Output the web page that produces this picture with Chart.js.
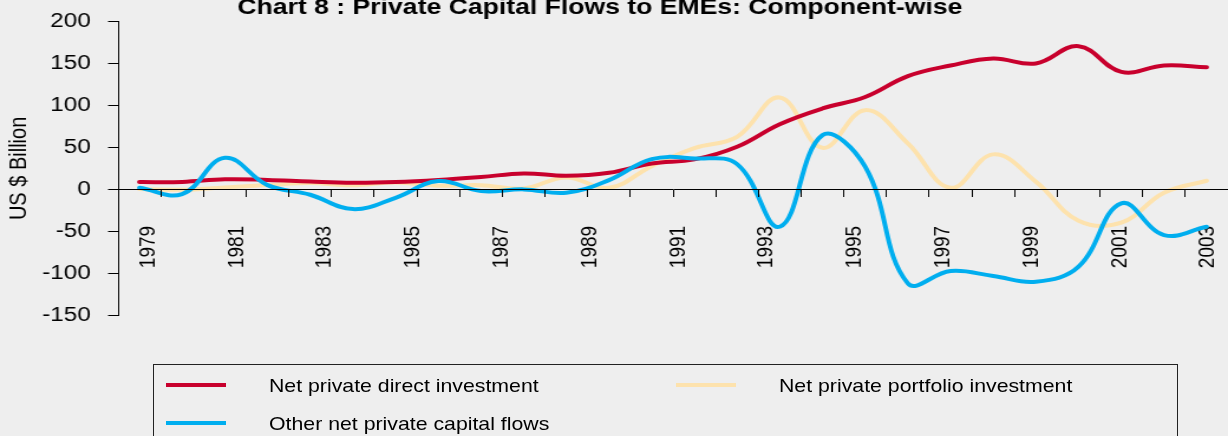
<!DOCTYPE html>
<html>
<head>
<meta charset="utf-8">
<script src="https://cdn.jsdelivr.net/npm/chart.js@4.4.1/dist/chart.umd.min.js"></script>
<style>
  html, body { margin: 0; padding: 0; background: #eeeeee; overflow: hidden; }
  body { width: 1228px; height: 436px; position: relative; font-family: "Liberation Sans", Arial, sans-serif; }
  /* the original picture is stretched sideways, so the canvas is too */
  #chart { position: absolute; left: 0; top: 0; transform-origin: 0 0; transform: scaleX(1.180769); }
  #legend { position: absolute; left: 153px; top: 364px; width: 1025px; height: 100px; border: 1px solid #222; box-sizing: border-box; }
  .item { position: absolute; height: 20px; width: 480px; }
  .swatch { position: absolute; left: 0; top: 7px; width: 60px; height: 4px; }
  .txt { position: absolute; left: 103px; top: 0; font-size: 19px; line-height: 19px; white-space: nowrap; color: #000;
         transform-origin: 0 0; transform: scaleX(1.12); }
</style>
</head>
<body>
<canvas id="chart" width="1040" height="436"></canvas>
<div id="legend"></div>
<script>
const years = [1978, 1979, 1980, 1981, 1982, 1983, 1984, 1985, 1986, 1987, 1988, 1989, 1990,
  1991, 1992, 1993, 1994, 1995, 1996, 1997, 1998, 1999, 2000, 2001, 2002, 2003];
const labelYears = [1979, 1981, 1983, 1985, 1987, 1989, 1991, 1993, 1995, 1997, 1999, 2001, 2003];

// US $ billion
const directInv = [8.7, 8.9, 12.1, 11.3, 9.3, 7.9, 8.7, 11.1, 14.7, 19.0, 16.2, 19.8, 30.9,
  35.7, 50.8, 77.7, 96.4, 110, 134.9, 147.6, 155.9, 150, 170.6, 140, 147.6, 145.6];
const portfolioInv = [0.4, -0.5, 2.4, 5.1, 7.5, 4.8, 8.3, 4.4, 5, 1.2, 14.3, 1.9, 27.7,
  49.2, 62.6, 109.5, 49.5, 94.4, 54.8, 1.9, 41.7, 9.1, -37.4, -39.7, -4, 10.3];
const otherFlows = [1.9, -5.6, 37.6, 5.1, -6.4, -23.5, -10, 9.9, -2.0, 0, -4, 11, 36,
  36.9, 30.1, -44.5, 64.6, 27, -112, -97.3, -103.2, -110, -92.1, -16.7, -54.4, -44.5];

const seriesNames = ["Net private direct investment", "Net private portfolio investment", "Other net private capital flows"];
const seriesColors = ["#c8002d", "#fde2ad", "#00aeef"];

const fam = '"Liberation Sans", Arial, sans-serif';

const zeroPad = (scale) => {
  scale.paddingLeft = 0;
  scale.paddingRight = 0;
};

// legend is built as html so the two columns sit where the original has them
const htmlLegend = {
  id: "htmlLegend",
  afterUpdate(chart) {
    const box = document.getElementById("legend");
    box.innerHTML = "";
    chart.data.datasets.forEach((ds, i) => {
      const item = document.createElement("div");
      item.className = "item";
      item.style.left = 12 + (i % 2) * 510 + "px";
      item.style.top = 11 + Math.floor(i / 2) * 37.7 + "px";
      item.innerHTML = `<div class="swatch" style="background:${ds.borderColor}"></div><span class="txt">${ds.label}</span>`;
      box.appendChild(item);
    });
  },
};

const ctx = document.getElementById("chart");

new Chart(ctx, {
  type: "line",
  data: {
    labels: years,
    datasets: [
      { label: seriesNames[0], data: directInv, borderColor: seriesColors[0], backgroundColor: seriesColors[0], order: 1 },
      { label: seriesNames[1], data: portfolioInv, borderColor: seriesColors[1], backgroundColor: seriesColors[1], order: 2 },
      { label: seriesNames[2], data: otherFlows, borderColor: seriesColors[2], backgroundColor: seriesColors[2], order: 0 },
    ],
  },
  options: {
    responsive: false,
    animation: false,
    layout: { autoPadding: false, padding: { left: -24, top: -4, right: 0, bottom: 120.7 } },
    elements: {
      point: { radius: 0, hoverRadius: 0 },
      line: { borderWidth: 4, tension: 0.4, borderCapStyle: "round", borderJoinStyle: "round" },
    },
    plugins: {
      legend: { display: false },
      tooltip: { enabled: false },
      title: {
        display: true,
        text: "Chart 8 : Private Capital Flows to EMEs: Component-wise",
        color: "#000",
        font: { family: fam, size: 22.5, weight: "bold", lineHeight: 1 },
        padding: { top: 1, bottom: 2 },
      },
    },
    scales: {
      x: {
        type: "category",
        position: { y: 0 },
        offset: true,
        grid: { display: true, drawOnChartArea: false, drawTicks: true, tickLength: 7, color: "#000", offset: true, z: 1 },
        border: { display: true, color: "#000", width: 1, z: 1 },
        ticks: { display: false },
        afterFit: zeroPad,
      },
      xl: {
        type: "linear",
        position: { y: 0 },
        min: 1978.317,
        max: 2003.452,
        bounds: "data",
        grid: { display: false },
        border: { display: false },
        ticks: {
          autoSkip: false,
          maxRotation: 90,
          minRotation: 90,
          padding: 28.5,
          color: "#000",
          font: { family: fam, size: 19 },
          callback: (v) => String(v),
        },
        afterBuildTicks: (scale) => {
          scale.ticks = labelYears.map((v) => ({ value: v }));
        },
        afterFit: zeroPad,
      },
      y: {
        type: "linear",
        position: "left",
        min: -150,
        max: 200,
        ticks: { stepSize: 50, padding: 14.7, color: "#000", font: { family: fam, size: 20.5 } },
        grid: { drawOnChartArea: false, drawTicks: true, tickLength: 8.5, color: "#000" },
        border: { display: true, color: "#000", width: 1 },
        title: {
          display: true,
          text: "US $ Billion",
          color: "#000",
          font: { family: fam, size: 20, lineHeight: 1.2 },
          padding: { top: 28.7, bottom: 0 },
        },
        afterFit: (scale) => {
          scale.width = 124;
          scale.paddingTop = 0;
          scale.paddingBottom = 0;
        },
      },
    },
  },
  plugins: [htmlLegend],
});
</script>
</body>
</html>
